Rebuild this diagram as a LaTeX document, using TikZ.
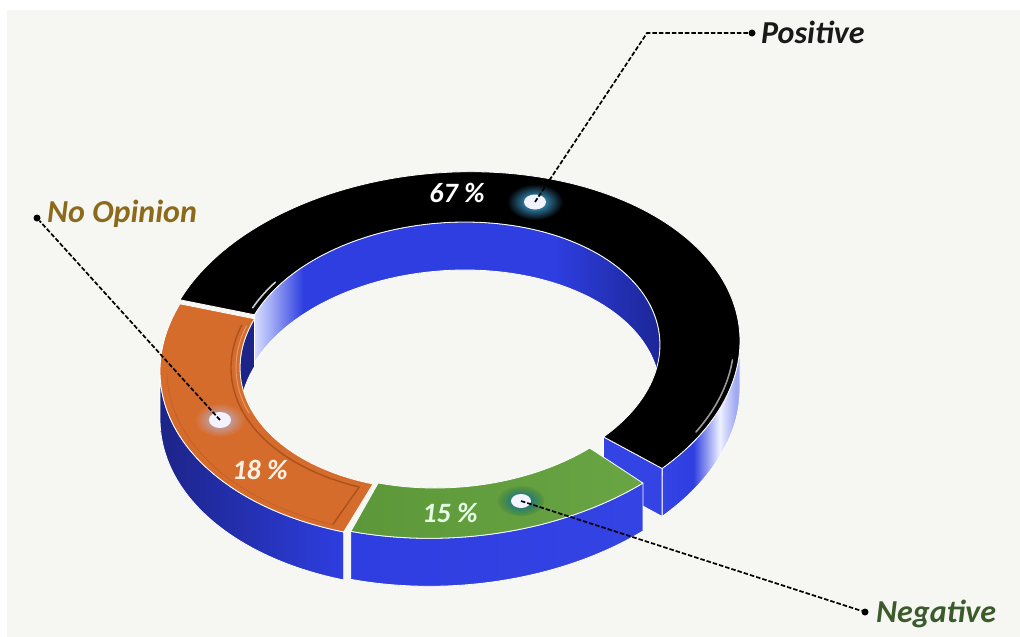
\documentclass[tikz,border=0pt]{standalone}
\usepackage{fontspec}
\setmainfont{Carlito}
\definecolor{bgc}{HTML}{F6F7F2}
\definecolor{wallL}{HTML}{D5DCFF}
\definecolor{wallM}{HTML}{2E3EE0}
\definecolor{wallD}{HTML}{1B2696}
\definecolor{wallE}{HTML}{3343E4}
\definecolor{wallN}{HTML}{1C2488}
\definecolor{wallW}{HTML}{EEF1FF}
\definecolor{orangeTop}{HTML}{D66C2B}
\definecolor{orangeDark}{HTML}{97461A}
\definecolor{greenTop}{HTML}{5C9739}
\definecolor{greenLight}{HTML}{6AA544}
\definecolor{tagGold}{HTML}{8C6A1C}
\definecolor{tagGreen}{HTML}{3C5B2C}
% back inner wall: pale at its left end, darker towards the right
\pgfdeclarehorizontalshading{innerwall}{100bp}{color(0bp)=(wallL); color(25bp)=(wallL); color(27bp)=(wallL!70!wallM); color(31bp)=(wallM); color(62bp)=(wallM); color(75bp)=(wallD); color(100bp)=(wallD)}
% right outer wall with a glare
\pgfdeclarehorizontalshading{rightwall}{100bp}{color(0bp)=(wallE); color(25bp)=(wallE); color(45bp)=(wallM); color(62bp)=(wallW); color(72bp)=(wallM!40!wallW); color(100bp)=(wallM!40!wallW)}
\begin{document}
\begin{tikzpicture}[x=1pt,y=-1pt,
  declare function={ex(\ra,\ta)=450+\ra*cos(\ta); ey(\ra,\ta,\ha)=354+\ha-0.627*\ra*sin(\ta)-0.045*\ra*cos(\ta);},
  rimline/.style={draw=white, line width=0.8pt, line join=round},
  leader/.style={draw=black, line width=1.7pt, dash pattern=on 4.5pt off 2pt},
  enddot/.style={circle, fill=black, inner sep=0pt, minimum size=7pt},
  tag/.style={font=\fontsize{32}{36}\selectfont\bfseries\itshape, inner sep=0pt, anchor=base west},
  pct/.style={font=\fontsize{28}{32}\selectfont\bfseries\itshape, inner sep=0pt},
  core/.style={fill=white!92!blue!60!white},
]
% canvas
\useasboundingbox (0,0) rectangle (1020,637);
\fill[white] (0,0) rectangle (1020,637);
\fill[bgc] (7,10) rectangle (1020,637);

% inner walls seen through the hole (Positive, then No Opinion)
\path[shading=innerwall, rimline]
  plot[domain=0:158.6, samples=90, variable=\t] ({ex(210,\t)},{ey(210,\t,0)})
  -- plot[domain=158.6:0, samples=90, variable=\t] ({ex(210,\t)},{ey(210,\t,48)}) -- cycle;
\path[fill=wallN, rimline]
  plot[domain=158.6:180, samples=20, variable=\t] ({ex(210,\t)},{ey(210,\t,4)})
  -- plot[domain=180:158.6, samples=20, variable=\t] ({ex(210,\t)},{ey(210,\t,52)}) -- cycle;

% Positive: outer wall on the right and the cut end face
\path[shading=rightwall, rimline]
  plot[domain=-43:0, samples=40, variable=\t] ({ex(290,\t)},{ey(290,\t,0)})
  -- plot[domain=0:-43, samples=40, variable=\t] ({ex(290,\t)},{ey(290,\t,48)}) -- cycle;
\path[fill=wallE, rimline]
  ({ex(210,-43)},{ey(210,-43,0)}) -- ({ex(290,-43)},{ey(290,-43,0)})
  -- ({ex(290,-43)},{ey(290,-43,48)}) -- ({ex(210,-43)},{ey(210,-43,48)}) -- cycle;

% front outer walls (No Opinion, Negative)
\path[left color=wallN, right color=wallM, rimline]
  plot[domain=180:248.5, samples=60, variable=\t] ({ex(290,\t)},{ey(290,\t,4)})
  -- plot[domain=248.5:180, samples=60, variable=\t] ({ex(290,\t)},{ey(290,\t,52)}) -- cycle;
\path[left color=wallM, right color=wallE, rimline]
  plot[domain=250:311.7, samples=60, variable=\t] ({ex(290,\t)},{ey(290,\t,2)})
  -- plot[domain=311.7:250, samples=60, variable=\t] ({ex(290,\t)},{ey(290,\t,50)}) -- cycle;

% top faces
\path[fill=black, rimline]
  plot[domain=-43:158.6, samples=120, variable=\t] ({ex(290,\t)},{ey(290,\t,0)})
  -- plot[domain=158.6:-43, samples=120, variable=\t] ({ex(210,\t)},{ey(210,\t,0)}) -- cycle;
\path[fill=orangeTop, rimline]
  plot[domain=158.6:248.5, samples=60, variable=\t] ({ex(290,\t)},{ey(290,\t,4)})
  -- plot[domain=248.5:158.6, samples=60, variable=\t] ({ex(210,\t)},{ey(210,\t,4)}) -- cycle;
\path[left color=greenTop, right color=greenLight, rimline]
  plot[domain=250:311.7, samples=60, variable=\t] ({ex(290,\t)},{ey(290,\t,2)})
  -- plot[domain=311.7:250, samples=60, variable=\t] ({ex(210,\t)},{ey(210,\t,2)}) -- cycle;

% bevel on the No Opinion piece
\draw[orangeDark, line width=1.4pt, opacity=0.7]
  plot[domain=162:245.5, samples=50, variable=\t] ({ex(219,\t)},{ey(219,\t,4)})
  -- ({ex(283,245.5)},{ey(283,245.5,4)});
\draw[orangeDark, line width=1pt, opacity=0.25]
  plot[domain=181:245, samples=40, variable=\t] ({ex(283,\t)},{ey(283,\t,4)});
\draw[white, line width=1pt, opacity=0.3]
  plot[domain=162:200, samples=30, variable=\t] ({ex(214,\t)},{ey(214,\t,4)});

% gloss on the Positive piece
\draw[white, line width=1.6pt, opacity=0.8, line cap=round]
  plot[domain=144:156, samples=20, variable=\t] ({ex(216,\t)},{ey(216,\t,0)});
\draw[white, line width=1.6pt, opacity=0.6, line cap=round]
  plot[domain=-30:-6, samples=30, variable=\t] ({ex(284,\t)},{ey(284,\t,0)});

% glowing markers
\coordinate (mPos) at (535,202);
\coordinate (mNo) at (220,420);
\coordinate (mNeg) at (521,501);
\shade[inner color=blue!35!cyan!70!white, outer color=black] (mPos) ellipse (28 and 18);
\fill[core] (mPos) ellipse (11 and 7.5);
\shade[inner color=gray!60!blue!40!white, outer color=orangeTop] (mNo) ellipse (25 and 17);
\fill[core] (mNo) ellipse (11 and 8);
\shade[inner color=teal!80!blue, outer color=greenTop] (mNeg) ellipse (23 and 15);
\fill[core] (mNeg) ellipse (10 and 7);

% percentages
\node[pct, text=white] (pPos) at (457,193) {67 \%};
\node[pct, text=white!90!orange] (pNo) at (260,470) {18 \%};
\node[pct, text=white!90!green] (pNeg) at (450,513) {15 \%};

% leaders and labels
\node[enddot] (dPos) at (752,33) {};
\node[enddot] (dNo) at (37,218) {};
\node[enddot] (dNeg) at (865,612) {};
\coordinate (kPos) at (647,33);
\draw[leader] (mPos) -- (kPos) -- (dPos);
\draw[leader] (mNo) -- (dNo);
\draw[leader] (mNeg) -- (dNeg);
\node[tag, text=black!90] (tPos) at (761,43) {Positive};
\node[tag, text=tagGold] (tNo) at (47,222) {No Opinion};
\node[tag, text=tagGreen] (tNeg) at (876,622) {Negative};
\end{tikzpicture}
\end{document}
